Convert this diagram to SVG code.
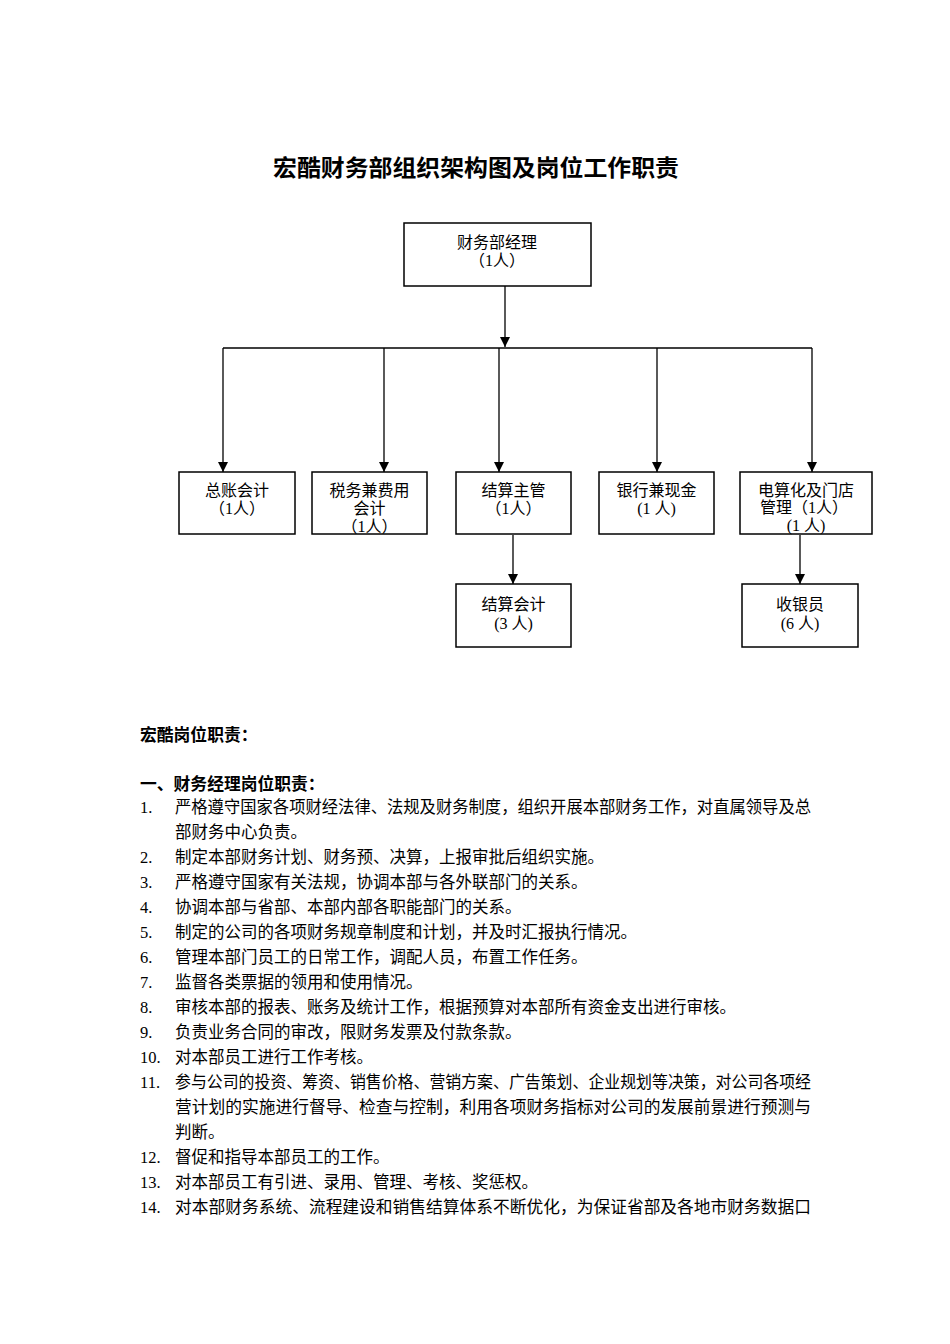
<svg xmlns="http://www.w3.org/2000/svg" width="950" height="1344" viewBox="0 0 950 1344">
<style>
text{font-family:"Liberation Serif","Noto Sans CJK SC",serif;fill:#000}
.t{font-size:23px;font-weight:bold}
.n{font-size:16px;text-anchor:middle}
.box{fill:#fff;stroke:#000;stroke-width:1.5}
.ln{fill:none;stroke:#000;stroke-width:1.3}
.b{font-size:16.8px;font-weight:bold}
.p{font-size:16.5px}
</style>
<defs>
<marker id="ah" viewBox="0 0 10 10" refX="10" refY="5" markerWidth="10" markerHeight="10" markerUnits="userSpaceOnUse" orient="auto">
<path d="M0,0 L10,5 L0,10 Z" fill="#000"/>
</marker>
</defs>
<rect width="950" height="1344" fill="#fff"/>
<text class="t" x="273" y="176" textLength="406" lengthAdjust="spacingAndGlyphs">宏酷财务部组织架构图及岗位工作职责</text>

<g id="connectors">
<line class="ln" x1="505" y1="286" x2="505" y2="347" marker-end="url(#ah)"/>
<line class="ln" x1="223" y1="348" x2="812" y2="348"/>
<line class="ln" x1="223" y1="348" x2="223" y2="472" marker-end="url(#ah)"/>
<line class="ln" x1="384" y1="348" x2="384" y2="472" marker-end="url(#ah)"/>
<line class="ln" x1="499" y1="348" x2="499" y2="472" marker-end="url(#ah)"/>
<line class="ln" x1="657" y1="348" x2="657" y2="472" marker-end="url(#ah)"/>
<line class="ln" x1="812" y1="348" x2="812" y2="472" marker-end="url(#ah)"/>
<line class="ln" x1="513" y1="535" x2="513" y2="584" marker-end="url(#ah)"/>
<line class="ln" x1="800" y1="535" x2="800" y2="584" marker-end="url(#ah)"/>
</g>

<g id="manager">
<rect class="box" x="404" y="223" width="187" height="63"/>
<text class="n" x="497" y="248">财务部经理</text>
<text class="n" x="497" y="266">（1人）</text>
</g>
<g id="gl">
<rect class="box" x="179" y="472" width="116" height="62"/>
<text class="n" x="237" y="496">总账会计</text>
<text class="n" x="237" y="514">（1人）</text>
</g>
<g id="tax">
<rect class="box" x="312" y="472" width="115" height="62"/>
<text class="n" x="369.5" y="496">税务兼费用</text>
<text class="n" x="369.5" y="514">会计</text>
<text class="n" x="369.5" y="532">（1人）</text>
</g>
<g id="settle-mgr">
<rect class="box" x="456" y="472" width="115" height="62"/>
<text class="n" x="513.5" y="496">结算主管</text>
<text class="n" x="513.5" y="514">（1人）</text>
</g>
<g id="bank">
<rect class="box" x="599" y="472" width="115" height="62"/>
<text class="n" x="656.5" y="496">银行兼现金</text>
<text class="n" x="656.5" y="514">(1 人)</text>
</g>
<g id="it">
<rect class="box" x="740" y="472" width="132" height="62"/>
<text class="n" x="806" y="496">电算化及门店</text>
<text class="n" x="804" y="513">管理（1人）</text>
<text class="n" x="806" y="531">(1 人)</text>
</g>
<g id="settle-acc">
<rect class="box" x="456" y="584" width="115" height="63"/>
<text class="n" x="513.5" y="610">结算会计</text>
<text class="n" x="513.5" y="629">(3 人)</text>
</g>
<g id="cashier">
<rect class="box" x="742" y="584" width="116" height="63"/>
<text class="n" x="800" y="610">收银员</text>
<text class="n" x="800" y="629">(6 人)</text>
</g>

<g id="duties">
<text class="b" x="140" y="741">宏酷岗位职责：</text>
<text class="b" x="140" y="790">一、财务经理岗位职责：</text>
<g class="p">
<text x="140" y="813">1.</text>
<text x="175" y="813" textLength="636" lengthAdjust="spacingAndGlyphs">严格遵守国家各项财经法律、法规及财务制度，组织开展本部财务工作，对直属领导及总</text>
<text x="175" y="838">部财务中心负责。</text>
<text x="140" y="863">2.</text>
<text x="175" y="863">制定本部财务计划、财务预、决算，上报审批后组织实施。</text>
<text x="140" y="888">3.</text>
<text x="175" y="888">严格遵守国家有关法规，协调本部与各外联部门的关系。</text>
<text x="140" y="913">4.</text>
<text x="175" y="913">协调本部与省部、本部内部各职能部门的关系。</text>
<text x="140" y="938">5.</text>
<text x="175" y="938">制定的公司的各项财务规章制度和计划，并及时汇报执行情况。</text>
<text x="140" y="963">6.</text>
<text x="175" y="963">管理本部门员工的日常工作，调配人员，布置工作任务。</text>
<text x="140" y="988">7.</text>
<text x="175" y="988">监督各类票据的领用和使用情况。</text>
<text x="140" y="1013">8.</text>
<text x="175" y="1013">审核本部的报表、账务及统计工作，根据预算对本部所有资金支出进行审核。</text>
<text x="140" y="1038">9.</text>
<text x="175" y="1038">负责业务合同的审改，限财务发票及付款条款。</text>
<text x="140" y="1063">10.</text>
<text x="175" y="1063">对本部员工进行工作考核。</text>
<text x="140" y="1088">11.</text>
<text x="175" y="1088" textLength="636" lengthAdjust="spacingAndGlyphs">参与公司的投资、筹资、销售价格、营销方案、广告策划、企业规划等决策，对公司各项经</text>
<text x="175" y="1113" textLength="636" lengthAdjust="spacingAndGlyphs">营计划的实施进行督导、检查与控制，利用各项财务指标对公司的发展前景进行预测与</text>
<text x="175" y="1138">判断。</text>
<text x="140" y="1163">12.</text>
<text x="175" y="1163">督促和指导本部员工的工作。</text>
<text x="140" y="1188">13.</text>
<text x="175" y="1188">对本部员工有引进、录用、管理、考核、奖惩权。</text>
<text x="140" y="1213">14.</text>
<text x="175" y="1213" textLength="636" lengthAdjust="spacingAndGlyphs">对本部财务系统、流程建设和销售结算体系不断优化，为保证省部及各地市财务数据口</text>
</g>
</g>
</svg>
